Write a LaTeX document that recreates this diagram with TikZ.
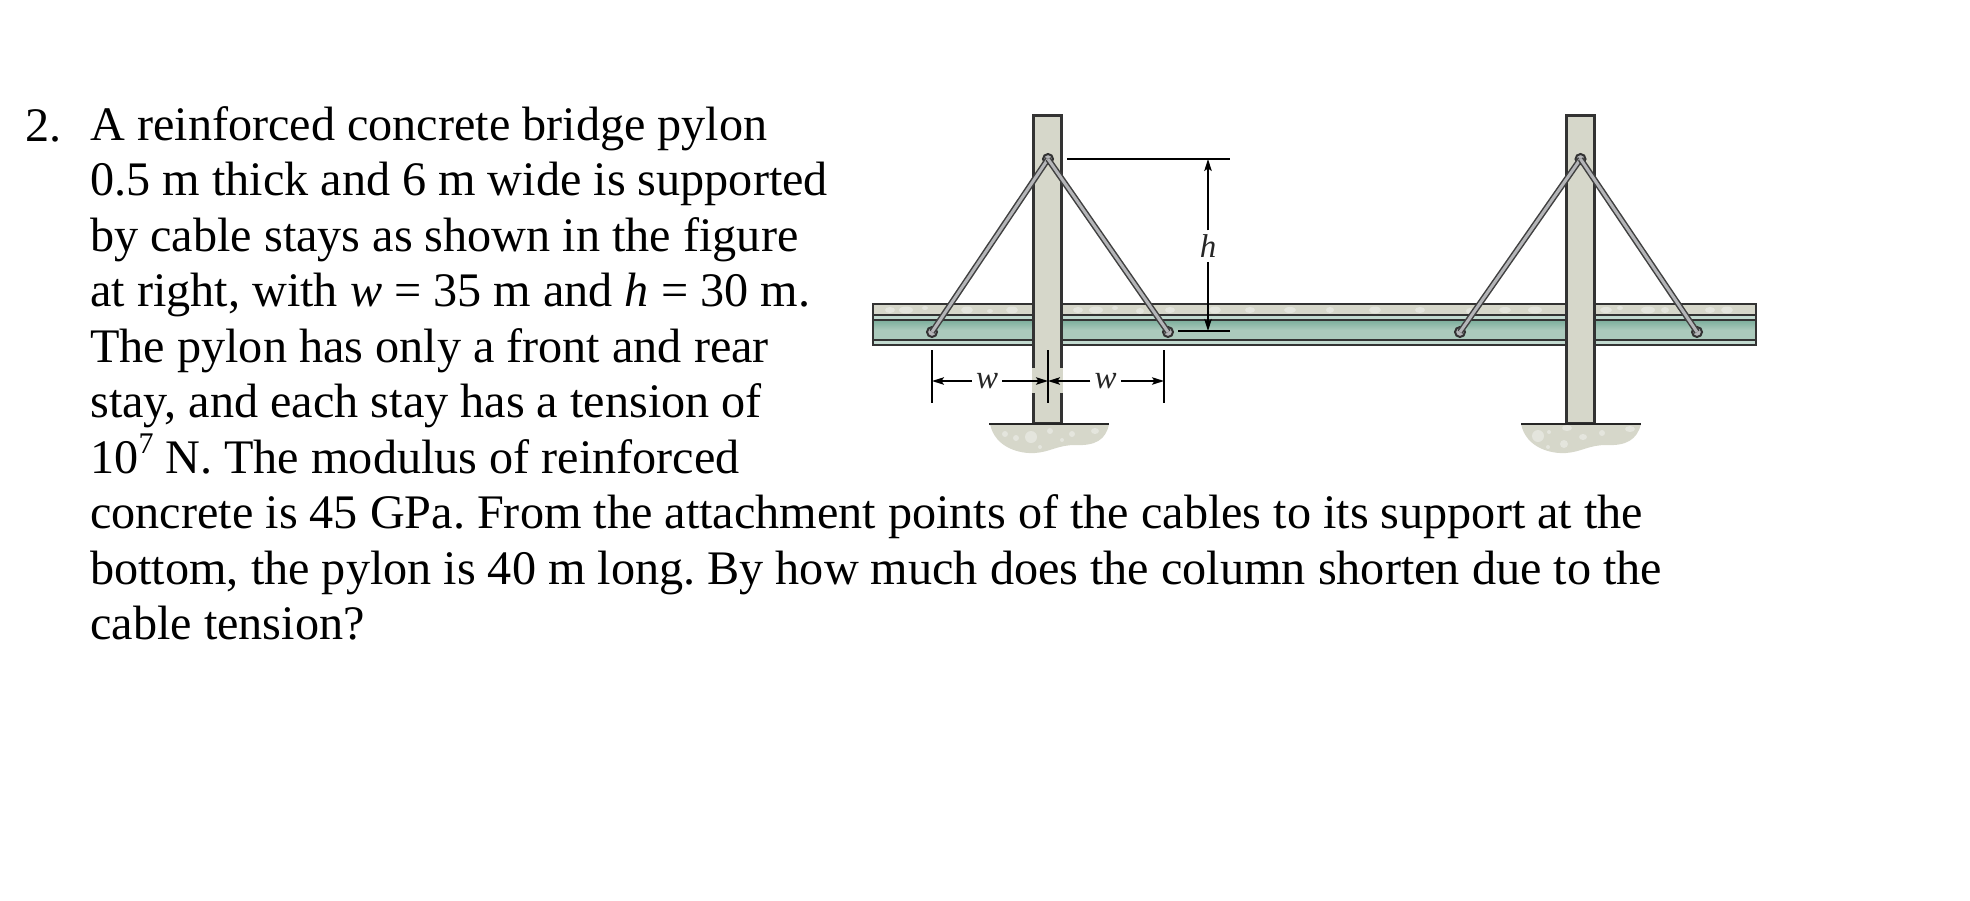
\documentclass[tikz,border=0pt]{standalone}
\usepackage{fontspec}
\setmainfont{Liberation Serif}
\usetikzlibrary{arrows.meta,positioning}

\begin{document}
\frenchspacing
\begin{tikzpicture}[x=1pt,y=-1pt,>={Stealth[length=12pt,width=7.5pt,inset=2.5pt]},semithick]
  \tikzstyle{prose}=[anchor=north west,align=left,inner sep=0pt,font=\fontsize{48.2}{55.5}\selectfont]
  \tikzstyle{label}=[inner sep=4pt,text=black!85,font=\fontsize{33}{33}\selectfont\itshape]
  \tikzstyle{pylon}=[shape=rectangle,draw=black!80,fill=concrete,line width=2.4pt,minimum width=28pt,minimum height=308pt,inner sep=0pt,outer sep=0pt]
  \tikzstyle{anchorpin}=[shape=circle,draw=black!80,fill=cablegray,line width=2pt,minimum size=10pt,inner sep=0pt]
  \tikzstyle{stay}=[draw=black!75,line width=1.5pt,double=cablegray,double distance=3pt]
  \tikzstyle{band}=[draw=black!80,line width=1.8pt]
  \tikzstyle{dimline}=[draw=black,line width=1.5pt]
  \tikzstyle{dimarrow}=[draw=black,line width=1.5pt,->]
  \tikzstyle{speck}=[fill=concrete!65!white]
  \definecolor{concrete}{HTML}{D6D7CA}
  \definecolor{cablegray}{HTML}{B4B5B8}
  \definecolor{deckgreen}{HTML}{ABCABC}
  \definecolor{deckdark}{HTML}{7BAD9B}
  \definecolor{deckpale}{HTML}{C2DAD0}

  \useasboundingbox (0,0) rectangle (1970,900);

  % text
  \node[prose] (Q) at (90,106) {A reinforced concrete bridge pylon\\
    0.5 m thick and 6 m wide is supported\\
    by cable stays as shown in the figure\\
    at right, with \textit{w} = 35 m and \textit{h} = 30 m.\\
    The pylon has only a front and rear\\
    stay, and each stay has a tension of\\
    10\raisebox{0.4em}{\fontsize{30}{30}\selectfont 7} N. The modulus of reinforced\\
    concrete is 45 GPa. From the attachment points of the cables to its support at the\\
    bottom, the pylon is 40 m long. By how much does the column shorten due to the\\
    cable tension?};
  \node[prose] (N) at (25,109) {2.};

  % deck
  \fill[concrete] (873,304) rectangle (1756,315);
  \fill[deckpale] (873,315) rectangle (1756,320);
  \fill[deckgreen] (873,330) rectangle (1756,340);
  \shade[top color=deckdark,bottom color=deckgreen] (873,320) rectangle (1756,330);
  \fill[deckpale] (873,340) rectangle (1756,345);
  \fill[speck] (890,310) ellipse (5 and 3) (906,310) ellipse (7 and 3.5) (925,308) ellipse (3 and 2)
    (967,310) ellipse (6 and 3.5) (990,311) ellipse (3 and 2) (1012,310) ellipse (6 and 3.5)
    (1078,310) ellipse (5 and 3) (1096,310) ellipse (7 and 3.5) (1115,308) ellipse (3 and 2)
    (1140,311) ellipse (4 and 3) (1170,310) ellipse (5 and 3) (1215,310) ellipse (6 and 3.5)
    (1250,310) ellipse (5 and 3) (1290,310) ellipse (6 and 3) (1330,310) ellipse (4 and 3)
    (1375,310) ellipse (6 and 3.5) (1420,310) ellipse (5 and 3) (1470,311) ellipse (4 and 3)
    (1505,310) ellipse (6 and 3) (1535,310) ellipse (7 and 3.5)
    (1606,310) ellipse (6 and 3) (1620,308) ellipse (3 and 2) (1648,310) ellipse (7 and 3.5)
    (1665,310) ellipse (4 and 3) (1710,310) ellipse (5 and 3) (1727,310) ellipse (6 and 3.5);
  \draw[band] (873,304) rectangle (1756,345);
  \draw[band] (873,315) -- (1756,315) (873,320) -- (1756,320) (873,340) -- (1756,340);

  % footings
  \fill[concrete] (990,424) .. controls (995,448) and (1020,454) .. (1035,453)
    .. controls (1050,452) and (1058,445) .. (1075,445)
    .. controls (1095,446) and (1106,440) .. (1109,424) -- cycle;
  \fill[concrete] (1521,424) .. controls (1526,448) and (1551,454) .. (1566,453)
    .. controls (1581,452) and (1589,445) .. (1606,445)
    .. controls (1626,446) and (1637,440) .. (1641,424) -- cycle;
  \fill[speck] (1005,434) ellipse (3 and 3) (1016,438) ellipse (3 and 3) (1031,437) ellipse (6 and 6)
    (1050,431) ellipse (3 and 3) (1072,434) ellipse (3 and 3) (1095,431) ellipse (4 and 3)
    (1040,447) ellipse (2 and 2) (1062,440) ellipse (2 and 2)
    (1538,436) ellipse (6 and 6) (1549,432) ellipse (2 and 2) (1564,444) ellipse (4 and 4)
    (1583,437) ellipse (4 and 3) (1567,428) ellipse (5 and 3) (1602,433) ellipse (3 and 3)
    (1630,429) ellipse (5 and 3) (1548,447) ellipse (2 and 2);

  % pylons
  \node[pylon] (P1) at (1047.6,269.5) {};
  \node[pylon] (P2) at (1580.5,269.5) {};
  \draw[concrete,line width=3.4pt] (P1.south west |- 0,368) -- (P1.south west |- 0,393);
  \draw[concrete,line width=3.4pt] (P1.south east |- 0,368) -- (P1.south east |- 0,393);
  \draw[black!85,line width=2.5pt] (989,424) -- (1109,424);
  \draw[black!85,line width=2.5pt] (1521,424) -- (1641,424);

  % stays
  \node[anchorpin] (T1) at (1048,159) {};
  \node[anchorpin] (L1) at (932,332) {};
  \node[anchorpin] (R1) at (1168,332) {};
  \node[anchorpin] (T2) at (1580.5,159) {};
  \node[anchorpin] (L2) at (1460,332) {};
  \node[anchorpin] (R2) at (1697,332) {};
  \path (T1.center) edge[stay] (L1.center)
	(T1.center) edge[stay] (R1.center)
	(T2.center) edge[stay] (L2.center)
	(T2.center) edge[stay] (R2.center);

  % dimensions
  \coordinate (A1) at (932,350);
  \coordinate (A2) at (932,403);
  \coordinate (B1) at (1048,350);
  \coordinate (B2) at (1048,403);
  \coordinate (C1) at (1164,350);
  \coordinate (C2) at (1164,403);
  \coordinate (D1) at (1067,159);
  \coordinate (D2) at (1230,159);
  \coordinate (E1) at (1178,331);
  \coordinate (E2) at (1230,331);
  \path (A1) edge[dimline] (A2)
	(B1) edge[dimline] (B2)
	(C1) edge[dimline] (C2)
	(D1) edge[dimline] (D2)
	(E1) edge[dimline] (E2);

  \node[label] (W1) at (987,381) {w};
  \node[label] (W2) at (1105.7,381) {w};
  \node[label] (H) at (1208,246) {h};
  \coordinate (F1) at (1208,159);
  \coordinate (F2) at (1208,331);
  \path (W1) edge[dimarrow] (A1 |- W1)
	(W1) edge[dimarrow] (B1 |- W1)
	(W2) edge[dimarrow] (B1 |- W2)
	(W2) edge[dimarrow] (C1 |- W2)
	(H) edge[dimarrow] (F1)
	(H) edge[dimarrow] (F2);
\end{tikzpicture}
\end{document}
